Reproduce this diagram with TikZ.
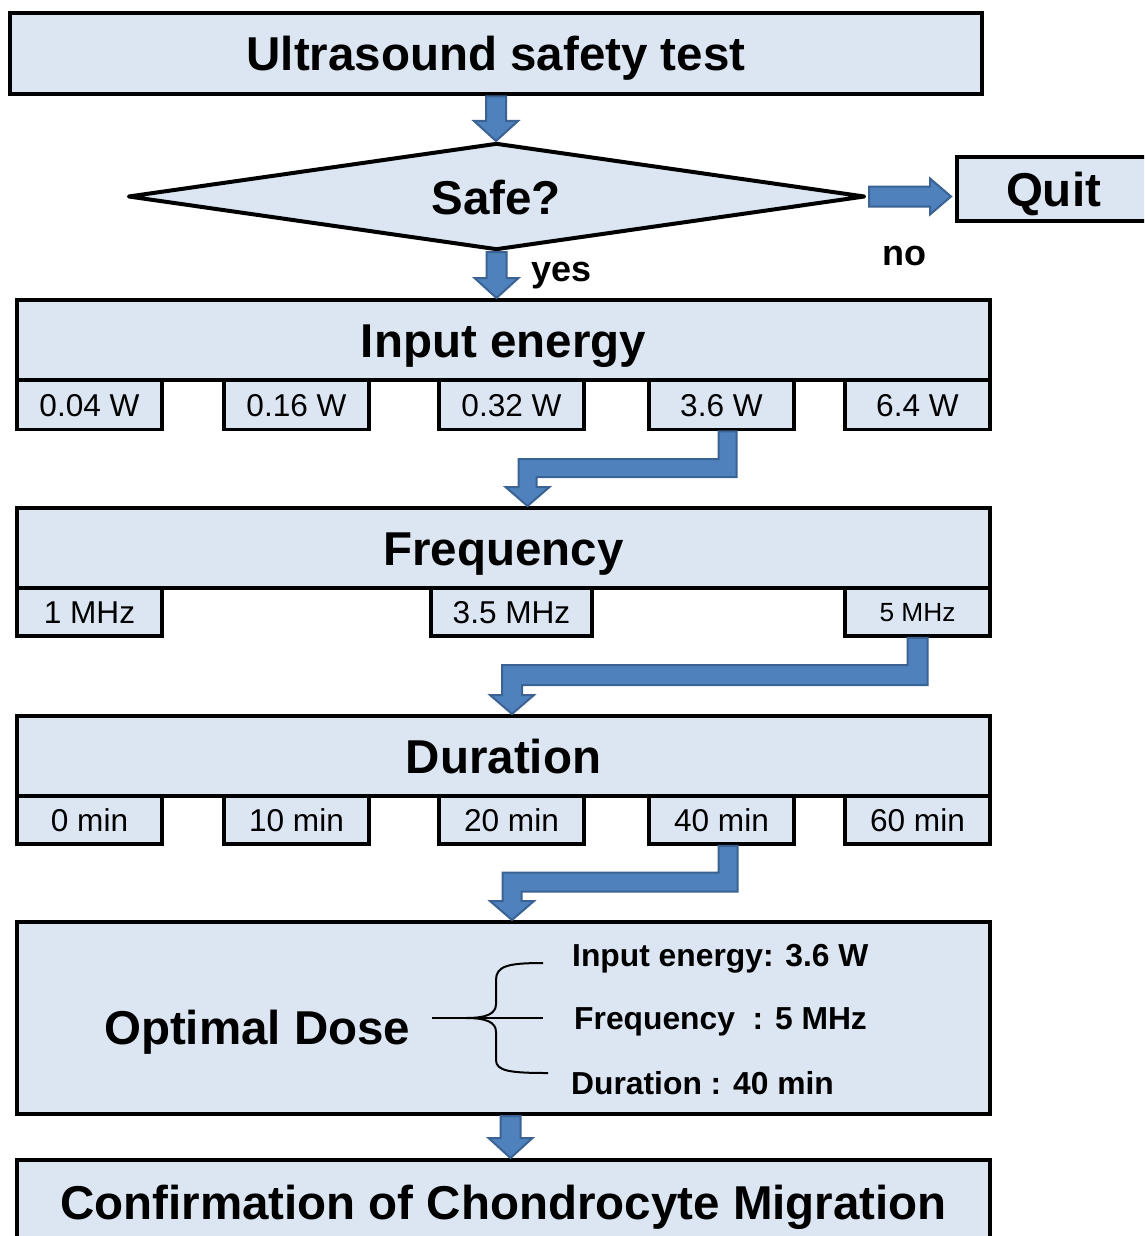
\documentclass[tikz,border=0pt]{standalone}
\usepackage{fontspec}
\setmainfont{Liberation Sans}
\usetikzlibrary{shapes.geometric,calc}
\definecolor{boxfill}{HTML}{DCE6F2}
\definecolor{arrfill}{HTML}{4F81BD}
\definecolor{arrline}{HTML}{3A6394}
\tikzset{
  mainbox/.style={draw=black, line width=4pt, fill=boxfill, rectangle, inner sep=0pt,
    font=\fontsize{47.5}{50}\selectfont\bfseries, text height=34pt, text depth=0pt},
  subbox/.style={draw=black, line width=3.5pt, fill=boxfill, rectangle, inner sep=0pt,
    minimum height=49pt, font=\fontsize{31.6}{36}\selectfont, text height=22.6pt, text depth=0pt},
  barrow/.style={fill=arrfill, draw=arrline, line width=2pt, line join=miter},
  bigtxt/.style={font=\fontsize{47.5}{50}\selectfont\bfseries, inner sep=0pt},
  midtxt/.style={font=\fontsize{36}{40}\selectfont\bfseries, inner sep=0pt},
  listtxt/.style={font=\fontsize{31.8}{36}\selectfont\bfseries, inner sep=0pt, anchor=base west},
}
\newcommand{\downarr}[2]{\draw[barrow] let \p1=#1, \p2=#2 in
  (\x1-10pt,\y1) -- (\x1+10pt,\y1) -- (\x1+10pt,\y2+20pt) -- (\x1+22pt,\y2+20pt)
  -- (\x1,\y2) -- (\x1-22pt,\y2+20pt) -- (\x1-10pt,\y2+20pt) -- cycle;}
\newcommand{\rightarr}[2]{\draw[barrow] let \p1=#1, \p2=#2 in
  (\x1,\y1+10pt) -- (\x2-21pt,\y1+10pt) -- (\x2-21pt,\y1+18pt) -- (\x2,\y1)
  -- (\x2-21pt,\y1-18pt) -- (\x2-21pt,\y1-10pt) -- (\x1,\y1-10pt) -- cycle;}
\newcommand{\bentarr}[4]{\draw[barrow] let \p1=#1, \p2=#3, \p3=#2 in
  (\x1-#4,\y1) -- (\x1+#4,\y1) -- (\x1+#4,\y3-#4) -- (\x2+#4,\y3-#4) -- (\x2+#4,\y2+19pt)
  -- (\x2+22pt,\y2+19pt) -- (\x2,\y2) -- (\x2-22pt,\y2+19pt) -- (\x2-#4,\y2+19pt)
  -- (\x2-#4,\y3+#4) -- (\x1-#4,\y3+#4) -- cycle;}
\begin{document}
\begin{tikzpicture}[x=1pt,y=-1pt]
\useasboundingbox (0,0) rectangle (1144,1236);
\fill[white] (0,0) rectangle (1144,1236);
\clip (0,0) rectangle (1144,1236);

% main boxes
\node[mainbox, minimum width=972pt, minimum height=81pt] (title) at (496,54) {Ultrasound safety test};
\node[diamond, draw=black, line width=4pt, line join=round, fill=boxfill, inner sep=0pt, aspect=6.9,
      minimum width=737pt, minimum height=107pt] (safe) at (496.5,196.5) {};
\node[bigtxt, text height=34pt, text depth=0pt] (safetxt) at (496,197) {Safe?};
\node[mainbox, minimum width=193pt, minimum height=64pt] (quit) at (1053.5,189) {Quit};

\node[mainbox, minimum width=973pt, minimum height=80pt] (input) at (503.5,340) {Input energy};
\node[subbox, minimum width=145pt] (e1) at (89.5,405) {0.04 W};
\node[subbox, minimum width=145pt] (e2) at (296.5,405) {0.16 W};
\node[subbox, minimum width=145pt] (e3) at (511.5,405) {0.32 W};
\node[subbox, minimum width=145pt] (e4) at (721.5,405) {3.6 W};
\node[subbox, minimum width=145pt] (e5) at (917.5,405) {6.4 W};

\node[mainbox, minimum width=973pt, minimum height=80pt] (freq) at (503.5,548) {Frequency};
\node[subbox, minimum width=145pt, minimum height=48pt] (f1) at (89.5,612) {1 MHz};
\node[subbox, minimum width=161pt, minimum height=48pt] (f2) at (511.5,612) {3.5 MHz};
\node[subbox, minimum width=145pt, minimum height=48pt, font=\fontsize{26.3}{30}\selectfont, text height=18.8pt] (f3) at (917.5,612) {5 MHz};

\node[mainbox, minimum width=973pt, minimum height=80pt] (dur) at (503.5,756) {Duration};
\node[subbox, minimum width=145pt, minimum height=48pt] (d1) at (89.5,820) {0 min};
\node[subbox, minimum width=145pt, minimum height=48pt] (d2) at (296.5,820) {10 min};
\node[subbox, minimum width=145pt, minimum height=48pt] (d3) at (511.5,820) {20 min};
\node[subbox, minimum width=145pt, minimum height=48pt] (d4) at (721.5,820) {40 min};
\node[subbox, minimum width=145pt, minimum height=48pt] (d5) at (917.5,820) {60 min};

\node[mainbox, minimum width=973pt, minimum height=192pt] (opt) at (503.5,1018) {};
\node[bigtxt, anchor=base west] (opttxt) at (104,1044) {Optimal Dose};
\node[listtxt] (l1) at (572,966) {Input energy: 3.6 W};
\node[listtxt] (l2) at (574,1029) {Frequency\ \ : 5 MHz};
\node[listtxt] (l3) at (571,1094) {Duration : 40 min};

\node[mainbox, minimum width=973pt, minimum height=85pt] (conf) at (503.5,1202.5) {Confirmation of Chondrocyte Migration};

% labels
\node[midtxt, anchor=base west] (yes) at (531,281) {yes};
\node[midtxt, anchor=base west] (no) at (882,265) {no};

% brace
\draw[line width=2pt] (432,1018) -- (543,1018);
\draw[line width=2pt, line join=round] (543,963) .. controls (508,963) and (496,966) .. (496,980)
  -- (496,1004) .. controls (496,1014) and (486,1018) .. (466,1018)
  .. controls (486,1018) and (496,1022) .. (496,1032)
  -- (496,1060) .. controls (496,1071) and (510,1073) .. (548,1073);

% arrows
\coordinate (h1) at (0,468);
\coordinate (h2) at (0,675);
\coordinate (h3) at (0,882);
\downarr{(title.south)}{(safe.north)}
\downarr{(safe.south)}{(input.north)}
\rightarr{($(safe.east)+(2,0)$)}{($(quit.west)+(-4,0)$)}
\bentarr{($(e4.south)+(6,0)$)}{(h1)}{($(freq.north)+(24,0)$)}{9pt}
\bentarr{(f3.south)}{(h2)}{($(dur.north)+(8.5,0)$)}{10pt}
\bentarr{($(d4.south)+(6.5,0)$)}{(h3)}{($(opt.north)+(8.5,0)$)}{9.5pt}
\downarr{($(opt.south)+(7,0)$)}{(conf.north)}
\end{tikzpicture}
\end{document}
